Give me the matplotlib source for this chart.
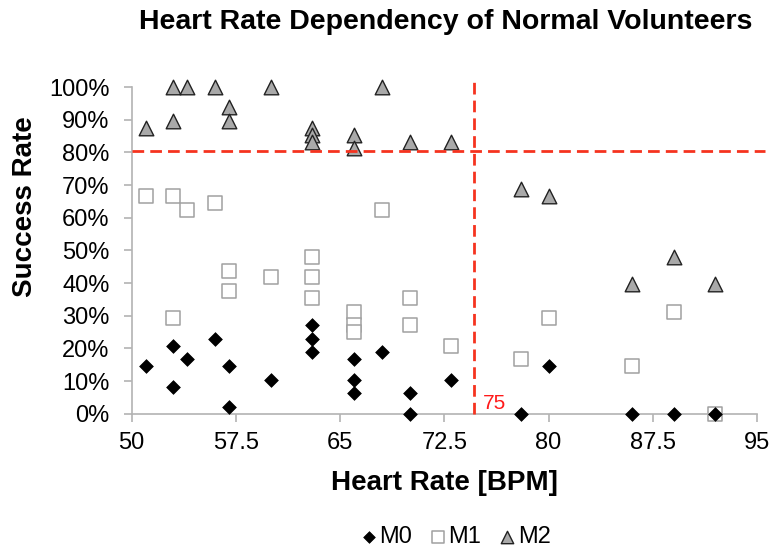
import matplotlib
matplotlib.use("Agg")
import matplotlib.pyplot as plt
from matplotlib.ticker import FuncFormatter

plt.rcParams['font.family'] = ['Liberation Sans', 'DejaVu Sans']

# ---- data (heart rate in BPM, success rate in %) ----
m0_hr = [51, 53, 53, 54, 56, 57, 57, 60, 63, 63, 63, 66, 66, 66, 68, 70, 70, 73, 78, 80, 86, 89, 92]
m0_sr = [14.6, 20.8, 8.3, 16.7, 22.9, 14.6, 2.1, 10.4, 27.1, 22.9, 18.75, 16.7, 10.4, 6.25, 18.75, 6.25, 0, 10.4, 0, 14.6, 0, 0, 0]

m1_hr = [51, 53, 53, 54, 56, 57, 57, 60, 63, 63, 63, 66, 66, 66, 68, 70, 70, 73, 78, 80, 86, 89, 92]
m1_sr = [66.7, 66.7, 29.2, 62.5, 64.6, 43.75, 37.5, 41.7, 47.9, 41.7, 35.4, 31.25, 27.1, 25.0, 62.5, 35.4, 27.1, 20.8, 16.7, 29.2, 14.6, 31.25, 0]

m2_hr = [51, 53, 53, 54, 56, 57, 57, 60, 63, 63, 63, 66, 66, 68, 70, 73, 78, 80, 86, 89, 92]
m2_sr = [87.5, 100, 89.6, 100, 100, 93.75, 89.6, 100, 87.5, 85.4, 83.3, 85.4, 81.25, 100, 83.3, 83.3, 68.75, 66.7, 39.6, 47.9, 39.6]

series_labels = ["M0", "M1", "M2"]
x_ticks = [50, 57.5, 65, 72.5, 80, 87.5, 95]
x_tick_labels = ["50", "57.5", "65", "72.5", "80", "87.5", "95"]
y_ticks = [0, 10, 20, 30, 40, 50, 60, 70, 80, 90, 100]

hr_threshold = 74.6
hr_threshold_label = "75"
sr_threshold = 80.5

title = "Heart Rate Dependency of Normal Volunteers"
x_label = "Heart Rate [BPM]"
y_label = "Success Rate"

# ---- figure ----
W, H = 775, 555
fig = plt.figure(figsize=(W / 100, H / 100), dpi=100)
ax = fig.add_axes([131.7 / W, 1 - 413.7 / H, (757 - 131.7) / W, (413.7 - 87) / H])

axis_gray = "#b3b3b3"
red = "#f5331f"

ax.scatter(m0_hr, m0_sr, marker="D", s=7.0 ** 2, c="black", edgecolors="black",
           linewidths=0.5, zorder=3, clip_on=False, label=series_labels[0])
ax.scatter(m1_hr, m1_sr, marker="s", s=10 ** 2, facecolors="white", edgecolors="#a0a0a0",
           linewidths=1.1, zorder=2, clip_on=False, label=series_labels[1])
ax.scatter(m2_hr, m2_sr, marker="^", s=10.5 ** 2, facecolors="#a9a9a9", edgecolors="#222222",
           linewidths=1.0, zorder=4, clip_on=False, label=series_labels[2])

ax.plot([50, 95.6], [sr_threshold, sr_threshold], color=red, lw=2.0,
        dashes=(4.2, 2.2), clip_on=False, zorder=5)
ax.plot([hr_threshold, hr_threshold], [0, 101.5], color=red, lw=2.0,
        dashes=(4.2, 2.2), clip_on=False, zorder=5)
ax.text(75.3, 1.3, hr_threshold_label, color="#ff1a1a", fontsize=15,
        ha="left", va="baseline")

ax.set_xlim(50, 95)
ax.set_ylim(0, 100)
ax.set_xticks(x_ticks)
ax.set_xticklabels(x_tick_labels)
ax.set_yticks(y_ticks)
ax.yaxis.set_major_formatter(FuncFormatter(lambda v, p: f"{v:.0f}%"))

for s in ["top", "right"]:
    ax.spines[s].set_visible(False)
for s in ["left", "bottom"]:
    ax.spines[s].set_color(axis_gray)
    ax.spines[s].set_linewidth(1.2)
ax.tick_params(axis="both", direction="out", length=6, width=1.2, color=axis_gray,
               labelsize=17, labelcolor="black")
ax.tick_params(axis="y", pad=10)
ax.tick_params(axis="x", pad=7)

fig.text(446 / W, 1 - 22 / H, title, ha="center", va="center", fontsize=20.5, fontweight="bold")
fig.text(25 / W, 1 - 207 / H, y_label, ha="center", va="center", rotation=90,
         fontsize=20, fontweight="bold")
fig.text(444 / W, 1 - 483 / H, x_label, ha="center", va="center", fontsize=20, fontweight="bold")

leg = fig.legend(loc="center", bbox_to_anchor=(455 / W, 1 - 537 / H), ncol=3, frameon=False,
                 fontsize=17, handletextpad=0.05, columnspacing=0.7, markerscale=0.85,
                 borderaxespad=0, handlelength=0.8)

fig.savefig("out.png", dpi=100)
